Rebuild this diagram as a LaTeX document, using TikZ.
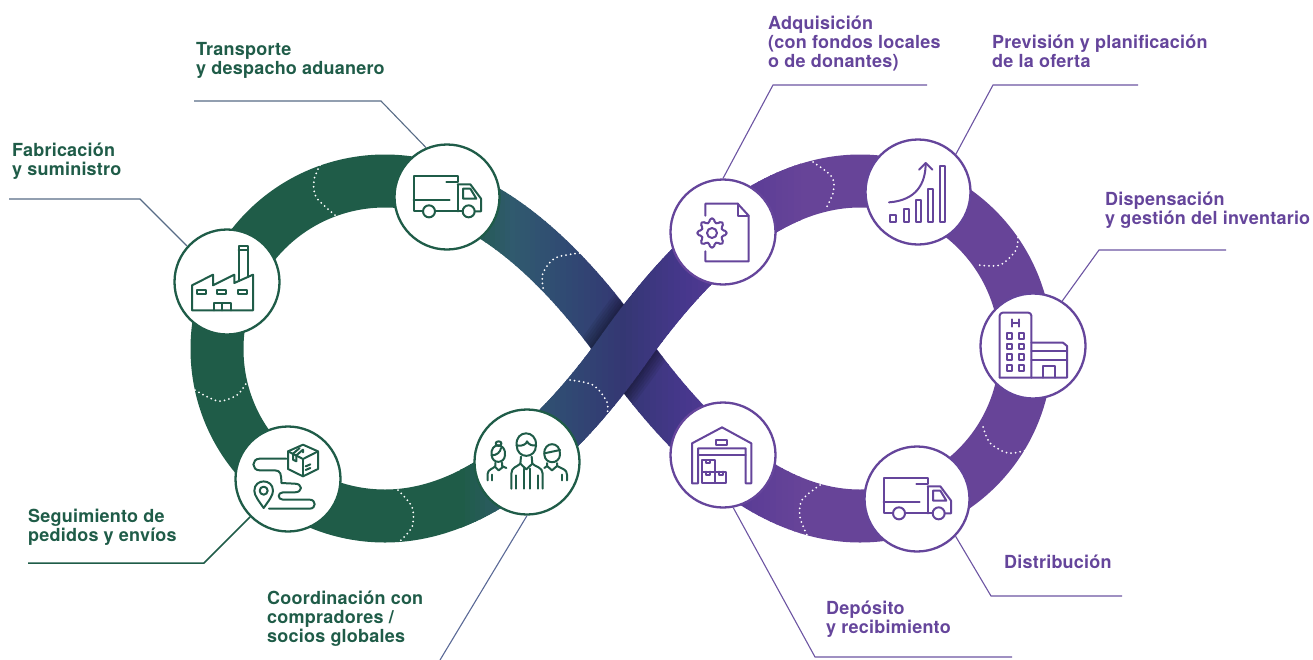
\documentclass[tikz,border=0pt]{standalone}
\usepackage{fontspec}
\setmainfont{TeX Gyre Heros}[LetterSpace=1.2]
\definecolor{gr}{RGB}{31,92,72}
\definecolor{pu}{RGB}{103,68,152}
\definecolor{txp}{RGB}{101,69,155}
\definecolor{sla}{RGB}{88,108,134}
\definecolor{slb}{RGB}{90,105,150}
\definecolor{ppl}{RGB}{108,84,162}
\definecolor{s1}{RGB}{48,90,110}
\definecolor{s2}{RGB}{48,75,115}
\definecolor{s3}{RGB}{52,55,115}
\definecolor{s4}{RGB}{70,55,140}
\definecolor{s5}{RGB}{90,60,150}
\def\eightpath{(624,349) .. controls (696,247) and (775,181) .. (860,181)
 .. controls (952,181) and (1026,256) .. (1026,349)
 .. controls (1026,442) and (952,516) .. (860,516)
 .. controls (775,516) and (696,451) .. (624,349)
 .. controls (552,451) and (470,516) .. (385,516)
 .. controls (292,516) and (217,442) .. (217,349)
 .. controls (217,256) and (292,181) .. (385,181)
 .. controls (470,181) and (552,247) .. (624,349)}
\def\topstrand{(385,516) .. controls (470,516) and (552,451) .. (624,349)
 .. controls (696,247) and (775,181) .. (860,181)}
\newcommand{\gradband}[1]{%
 \foreach \xa/\xb/\ca/\cb in {460/510/gr/s1,510/560/s1/s2,560/620/s2/s3,620/680/s3/s4,680/740/s4/s5,740/800/s5/pu}{%
  \foreach \p in {0,10,...,90}{%
   \pgfmathsetmacro\xl{\xa+(\xb-\xa)*\p/100}%
   \pgfmathsetmacro\xr{\xl+(\xb-\xa)/10+0.8}%
   \begin{scope}\clip (\xl,-5) rectangle (\xr,665);
    \draw[band,draw=\cb!\p!\ca] #1;
   \end{scope}}}}
\newcommand{\truckicon}[1]{%
 \begin{scope}[shift={(#1)},x=.3333pt,y=-.3333pt]
  \draw[ic] (-72,43) -- (-100,43) -- (-100,-63) -- (32,-63) -- (32,-45) -- (-2,-45);
  \draw[ic] (-100,10) -- (8,10);
  \draw[ic] (32,-38) -- (70,-38) -- (102,5) -- (102,43) -- (83,43);
  \draw[ic] (32,-38) -- (32,43);
  \draw[ic] (-36,43) -- (47,43);
  \draw[ic] (48,-25) -- (70,-25) -- (88,5) -- (48,5) -- cycle;
  \draw[ic] (-54,43) circle (18);
  \draw[ic] (65,43) circle (18);
 \end{scope}}
\tikzset{
 band/.style={line width=53pt,line cap=butt,line join=round},
 dots/.style={white,line width=2pt,line cap=round,dash pattern=on 0pt off 4.6pt},
 disc/.style={circle,fill=white,draw=#1,line width=2.3pt,minimum size=105pt,inner sep=0pt},
 ic/.style={line width=2pt,line join=round,line cap=round},
 lead/.style={line width=1.1pt},
 lab/.style={anchor=north west,inner sep=0pt,align=left,font=\fontsize{18}{19}\selectfont\bfseries}
}
\begin{document}
\begin{tikzpicture}[x=1pt,y=-1pt]
\useasboundingbox (0,0) rectangle (1313,659);
% band: back layer
\begin{scope}\clip (-5,-5) rectangle (461,665); \draw[band,draw=gr] \eightpath; \end{scope}
\begin{scope}\clip (799,-5) rectangle (1320,665); \draw[band,draw=pu] \eightpath; \end{scope}
\gradband{\eightpath}
% shadow under the upper strand
\begin{scope}
 \clip (600,276) -- (623,304) -- (656,349) -- (667,362) -- (688,388) -- (648,422) -- (625,395) -- (592,349) -- (581.5,336) -- (561,310) -- cycle;
 \foreach \w in {81,76,71,66,61,57}{\draw[line width=\w pt,draw=black,opacity=.07] \topstrand;}
\end{scope}
\gradband{\topstrand}
% dotted marks
\draw[dots] plot[smooth] coordinates {(320,165)(314,180)(316,197)(335,215)};
\draw[dots] plot[smooth] coordinates {(195,390)(218,401)(237,395)(247,382)};
\draw[dots] plot[smooth] coordinates {(398,490)(412,507)(412,527)(398,543)};
\draw[dots] plot[smooth] coordinates {(543,288)(543,273)(555,258)(580,253)};
\draw[dots] plot[smooth] coordinates {(570,380)(593,385)(607,402)(607,417)};
\draw[dots] plot[smooth] coordinates {(813,162)(832,177)(833,193)(825,210)};
\draw[dots] plot[smooth] coordinates {(1018,233)(1016,250)(1000,265)(978,265)};
\draw[dots] plot[smooth] coordinates {(983,427)(990,443)(1008,453)(1028,450)};
\draw[dots] plot[smooth] coordinates {(820,485)(802,500)(800,517)(807,535)};
% discs
\node[disc=gr] (fab) at (227,282) {};
\node[disc=gr] (trl) at (447,197) {};
\node[disc=gr] (seg) at (288,479) {};
\node[disc=gr] (coo) at (527,462) {};
\node[disc=txp] (adq) at (723,232) {};
\node[disc=txp] (pre) at (918,192) {};
\node[disc=txp] (dis) at (1033,346) {};
\node[disc=txp] (trr) at (917,499) {};
\node[disc=txp] (dep) at (723,455) {};
% leaders
\coordinate (a1) at (194,101); \coordinate (a2) at (381,101);
\draw[lead,sla] (a1) -- (a2) -- (trl.113);
\coordinate (b1) at (9,199); \coordinate (b2) at (140,199);
\draw[lead,sla] (b1) -- (b2) -- (fab.138);
\coordinate (c1) at (28,563); \coordinate (c2) at (204,563);
\draw[lead,gr,line width=1.5pt] (c1) -- (c2) -- (seg.225);
\coordinate (d1) at (440,660);
\draw[lead,slb] (d1) -- (coo.270);
\coordinate (e1) at (927,85); \coordinate (e2) at (773,85);
\draw[lead,ppl] (e1) -- (e2) -- (adq.90);
\coordinate (f1) at (1138,85); \coordinate (f2) at (993,85);
\draw[lead,ppl] (f1) -- (f2) -- (pre.45);
\coordinate (g1) at (1226,250); \coordinate (g2) at (1099,250);
\draw[lead,ppl] (g1) -- (g2) -- (dis.57);
\coordinate (h1) at (1122,596); \coordinate (h2) at (991,596);
\draw[lead,ppl] (h1) -- (h2) -- (trr.-44);
\coordinate (i1) at (1012,657); \coordinate (i2) at (815,657);
\draw[lead,ppl] (i1) -- (i2) -- (dep.-79);
% icons: green
\begin{scope}[draw=gr,gr]
\truckicon{447,197}
% factory
\begin{scope}[shift={(227,282)},x=.3333pt,y=-.3333pt]
 \draw[ic] (-105,10) -- (-42,-22) -- (-42,10) -- (22,-22) -- (22,3) -- (78,-22) -- (78,85) -- (-105,85) -- cycle;
 \draw[ic] (35,-3) -- (35,-107) -- (62,-107) -- (62,-15);
 \draw[ic] (35,-95) -- (62,-95);
 \draw[ic] (-90,25) rectangle (-62,37);
 \draw[ic] (-30,25) rectangle (-2,37);
 \draw[ic] (32,25) rectangle (60,37);
 \draw[ic] (-40,85) -- (-40,63) -- (12,63) -- (12,85);
 \draw[ic] (-14,63) -- (-14,85);
\end{scope}
% tracking
\begin{scope}[shift={(288,479)},x=.3333pt,y=-.3333pt]
 \draw[ic] (45,-103) -- (90,-83) -- (90,-30) -- (45,-8) -- (0,-30) -- (0,-83) -- cycle;
 \draw[ic] (0,-83) -- (45,-60) -- (90,-83);
 \draw[ic] (45,-60) -- (45,-8);
 \draw[ic] (15,-76) -- (35,-93);
 \draw[ic] (25,-71) -- (45,-88) -- (45,-80);
 \draw[ic] (15,-76) -- (15,-58) -- (25,-53) -- (25,-71);
 \draw[ic] (53,-38) -- (67,-44);
 \draw[ic] (53,-27) -- (67,-33);
 \draw[ic] (-5,-61) -- (-85,-61) .. controls (-110,-61) and (-110,-26) .. (-85,-26) -- (-40,-26)
   .. controls (-22,-26) and (-20,-15) .. (-20,12) -- (20,14)
   .. controls (45,14) and (45,40) .. (20,40) -- (-15,40)
   .. controls (-32,40) and (-32,62) .. (-15,62) -- (65,62)
   .. controls (85,62) and (85,89) .. (65,89) -- (-57,89);
 \draw[ic] (-73,87) .. controls (-88,65) and (-101,50) .. (-101,35)
   .. controls (-101,-2) and (-45,-2) .. (-45,35)
   .. controls (-45,50) and (-58,65) .. (-73,87) -- cycle;
 \draw[ic] (-73,35) circle (12);
\end{scope}
% people
\begin{scope}[shift={(527,462)},x=.3333pt,y=-.3333pt]
 % middle
 \draw[ic] (-31,-50) .. controls (-36,-98) and (30,-98) .. (27,-50) .. controls (27,-8) and (-31,-8) .. (-31,-50) -- cycle;
 \draw[ic] (-31,-50) .. controls (-15,-45) and (0,-55) .. (0,-62) .. controls (5,-52) and (15,-48) .. (27,-50);
 \draw[ic] (-47,80) -- (-47,35) .. controls (-47,15) and (-30,15) .. (-20,5) -- (-18,-16);
 \draw[ic] (47,80) -- (47,35) .. controls (47,15) and (25,15) .. (16,5) -- (14,-16);
 \draw[ic] (-20,5) -- (-2,22) -- (16,5);
 \draw[ic] (-32,40) -- (-32,80);
 \draw[ic] (32,40) -- (32,80);
 \draw[ic] (-10,20) -- (-10,80);
 \draw[ic] (8,20) -- (8,80);
 % left
 \draw[ic] (-106,-20) .. controls (-112,-60) and (-62,-60) .. (-66,-20) .. controls (-68,6) and (-104,6) .. (-106,-20) -- cycle;
 \draw[ic] (-85,-48) .. controls (-97,-50) and (-97,-62) .. (-85,-62) .. controls (-74,-62) and (-74,-50) .. (-85,-48);
 \draw[ic] (-106,-20) .. controls (-90,-20) and (-80,-30) .. (-78,-42);
 \draw[ic] (-118,55) -- (-118,35) .. controls (-118,22) and (-100,20) .. (-95,12) -- (-95,2);
 \draw[ic] (-104,55) -- (-104,38);
 \draw[ic] (-75,2) -- (-75,12) -- (-62,18);
 \draw[ic] (-95,15) -- (-85,25) -- (-72,15);
 % right
 \draw[ic] (52,-22) .. controls (48,-64) and (102,-64) .. (99,-22) .. controls (97,8) and (54,8) .. (52,-22) -- cycle;
 \draw[ic] (52,-26) -- (99,-36);
 \draw[ic] (60,3) -- (60,12) -- (52,18);
 \draw[ic] (90,3) -- (90,12) .. controls (105,20) and (120,22) .. (120,38) -- (120,55);
 \draw[ic] (105,38) -- (105,55);
 \draw[ic] (60,12) -- (75,25) -- (90,12);
\end{scope}
\end{scope}
% icons: purple
\begin{scope}[draw=txp,txp]
\truckicon{917,499}
% document
\begin{scope}[shift={(723,232)},x=.3333pt,y=-.3333pt]
 \draw[ic] (-53,-49) -- (-53,-85) -- (44,-85) -- (77,-49) -- (77,88) -- (-53,88) -- (-53,58);
 \draw[ic] (44,-85) -- (44,-49) -- (77,-49);
 \begin{scope}[shift={(-33,3)}]
 \draw[ic,rounded corners=1.5pt] (14:32) -- (8:44) -- (-8:44) -- (-14:32)
   -- (-31:32) -- (-37:44) -- (-53:44) -- (-59:32)
   -- (-76:32) -- (-82:44) -- (-98:44) -- (-104:32)
   -- (-121:32) -- (-127:44) -- (-143:44) -- (-149:32)
   -- (-166:32) -- (-172:44) -- (-188:44) -- (-194:32)
   -- (-211:32) -- (-217:44) -- (-233:44) -- (-239:32)
   -- (-256:32) -- (-262:44) -- (-278:44) -- (-284:32)
   -- (-301:32) -- (-307:44) -- (-323:44) -- (-329:32) -- cycle;
 \draw[ic] (0,0) circle (15);
 \end{scope}
\end{scope}
% chart
\begin{scope}[shift={(918,192)},x=.3333pt,y=-.3333pt]
 \draw[ic] (-83,70) rectangle (-67,90);
 \draw[ic] (-43,50) rectangle (-27,90);
 \draw[ic] (-7,25) rectangle (9,90);
 \draw[ic] (29,-9) rectangle (45,90);
 \draw[ic] (67,-79) rectangle (82,90);
 \draw[ic] (-87,31) .. controls (-5,25) and (23,-25) .. (23,-87);
 \draw[ic] (3,-67) -- (23,-87) -- (43,-67);
\end{scope}
% hospital
\begin{scope}[shift={(1033,346)},x=.3333pt,y=-.3333pt]
 \draw[ic,rounded corners=3pt] (-100,95) -- (-100,-100) -- (-5,-100) -- (-5,95);
 \draw[ic] (-100,95) -- (102,95) -- (102,0) -- (90,-10) -- (-5,-10);
 \draw[ic] (-5,15) -- (102,15);
 \draw[ic] (-5,43) -- (102,43);
 \draw[ic] (30,95) -- (30,61) -- (65,61) -- (65,95);
 \draw[ic] (-62,-80) -- (-62,-58);
 \draw[ic] (-42,-80) -- (-42,-58);
 \draw[ic] (-62,-69) -- (-42,-69);
 \foreach \yy in {-30,1,33,66}{
  \draw[ic] (-78,\yy-8) rectangle (-62,\yy+8);
  \draw[ic] (-42,\yy-8) rectangle (-26,\yy+8);
 }
\end{scope}
% warehouse
\begin{scope}[shift={(723,455)},x=.3333pt,y=-.3333pt]
 \draw[ic] (-75,85) -- (-93,85) -- (-93,-35) -- (-3,-83) -- (85,-35) -- (85,85) -- (68,85) -- (68,-20) -- (-75,-20) -- cycle;
 \draw[ic] (-75,0) -- (68,0);
 \draw[ic] (-22,-45) rectangle (12,-31);
 \draw[ic] (-63,15) rectangle (-25,50);
 \draw[ic] (-63,50) rectangle (-25,85);
 \draw[ic] (-25,50) rectangle (10,85);
 \draw[ic] (-50,15) -- (-50,24) -- (-38,24) -- (-38,15);
 \draw[ic] (-50,50) -- (-50,59) -- (-38,59) -- (-38,50);
 \draw[ic] (-13,50) -- (-13,59) -- (-1,59) -- (-1,50);
\end{scope}
\end{scope}
% labels
\node[lab,text=gr] (t1) at (196,42) {Transporte\\y despacho aduanero};
\node[lab,text=gr] (t2) at (12,143) {Fabricación\\y suministro};
\node[lab,text=gr] (t3) at (28,509) {Seguimiento de\\pedidos y envíos};
\node[lab,text=gr] (t4) at (267,591) {Coordinación con\\compradores /\\socios globales};
\node[lab,text=txp] (t5) at (768,16) {Adquisición\\(con fondos locales\\o de donantes)};
\node[lab,text=txp] (t6) at (992,35) {Previsión y planificación\\de la oferta};
\node[lab,text=txp] (t7) at (1105,192) {Dispensación\\y gestión del inventario};
\node[lab,text=txp] (t8) at (1004,555) {Distribución};
\node[lab,text=txp] (t9) at (826,601) {Depósito\\y recibimiento};
\end{tikzpicture}
\end{document}
